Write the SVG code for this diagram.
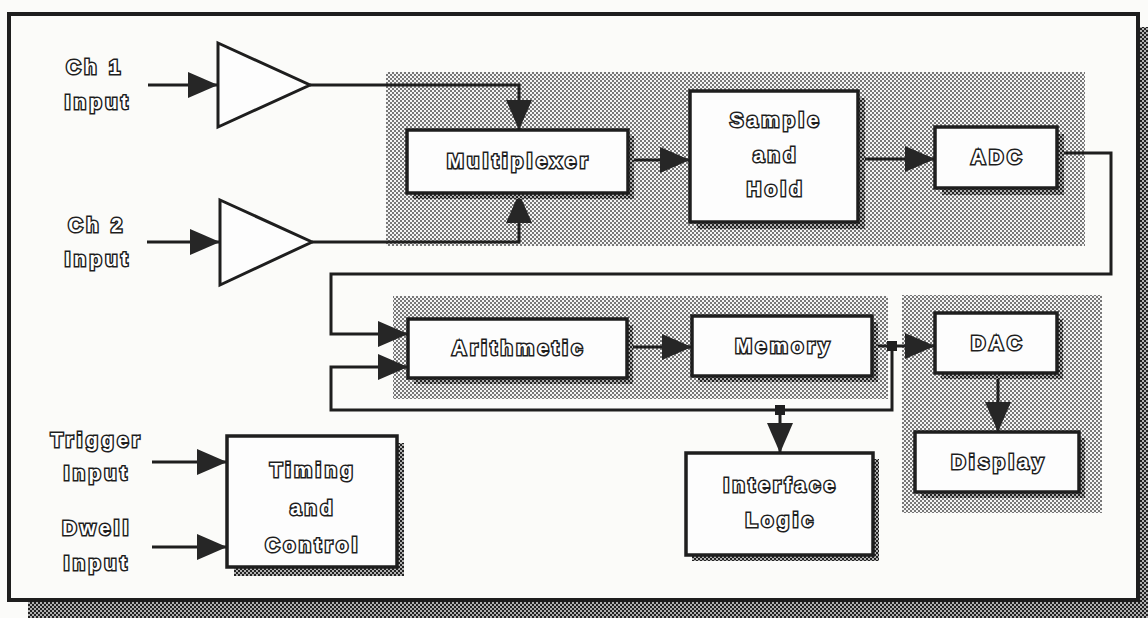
<svg xmlns="http://www.w3.org/2000/svg" width="1148" height="618" viewBox="0 0 1148 618">
<style>
.ln{fill:none;stroke:#1e1e1e;stroke-width:3;stroke-linejoin:miter}
.arr{marker-end:url(#ah)}
.box{fill:#fdfdfd;stroke:#1e1e1e;stroke-width:3.5}
.shd{fill:url(#dark)}
.reg{fill:url(#light)}
.amp{fill:#fdfdfd;stroke:#1e1e1e;stroke-width:3}
.t{font-family:"Liberation Sans",Arial,sans-serif;font-weight:bold;font-size:20px;fill:#fff;stroke:#1e1e1e;stroke-width:3;paint-order:stroke;letter-spacing:3.5px;text-anchor:middle}
.jn{fill:#1e1e1e}
</style>
<defs>
<pattern id="light" width="4" height="4" patternUnits="userSpaceOnUse">
<rect width="4" height="4" fill="#f4f4f4"/>
<rect x="0" y="0" width="2" height="2" fill="#777"/>
<rect x="2" y="2" width="2" height="2" fill="#777"/>
</pattern>
<pattern id="dark" width="4" height="4" patternUnits="userSpaceOnUse">
<rect width="4" height="4" fill="#b0b0b0"/>
<rect x="0" y="0" width="2" height="2" fill="#222"/>
<rect x="2" y="2" width="2" height="2" fill="#222"/>
</pattern>
<marker id="ah" viewBox="0 0 30 26" refX="30" refY="13" markerWidth="30" markerHeight="26" markerUnits="userSpaceOnUse" orient="auto">
<path d="M0,0 L30,13 L0,26 z" fill="#262626"/>
</marker>
</defs>

<rect width="1148" height="618" fill="#fbfbf9"/>

<!-- outer frame with shadow -->
<g id="frame">
<rect x="1138" y="27" width="10" height="591" class="shd"/>
<rect x="28" y="600" width="1120" height="18" class="shd"/>
<rect x="9" y="14" width="1129" height="586" fill="#fbfbf9" stroke="#1e1e1e" stroke-width="4"/>
</g>

<!-- shaded grouping regions -->
<g id="regions">
<rect x="386" y="72" width="699" height="174" class="reg"/>
<rect x="393" y="296" width="495" height="103" class="reg"/>
<rect x="902" y="295" width="200" height="218" class="reg"/>
</g>

<!-- connectors -->
<g id="connectors">
<line x1="148" y1="85" x2="218" y2="85" class="ln arr"/>
<line x1="147" y1="242" x2="220" y2="242" class="ln arr"/>
<polyline points="310,85 519,85 519,130" class="ln arr"/>
<polyline points="312,242 519,242 519,193" class="ln arr"/>
<line x1="628" y1="160" x2="690" y2="160" class="ln arr"/>
<line x1="858" y1="159" x2="935" y2="159" class="ln arr"/>
<polyline points="1057,153 1111,153 1111,274 331,274 331,334 408,334" class="ln arr"/>
<line x1="627" y1="347" x2="692" y2="347" class="ln arr"/>
<line x1="872" y1="346" x2="935" y2="346" class="ln arr"/>
<polyline points="892,346 892,410 331,410 331,367 408,367" class="ln arr"/>
<line x1="780" y1="410" x2="780" y2="453" class="ln arr"/>
<line x1="998" y1="373" x2="998" y2="432" class="ln arr"/>
<line x1="152" y1="462" x2="227" y2="462" class="ln arr"/>
<line x1="152" y1="547" x2="227" y2="547" class="ln arr"/>
<rect x="887" y="341" width="10" height="10" class="jn"/>
<rect x="775" y="405" width="10" height="10" class="jn"/>
</g>

<!-- input labels -->
<g id="lbl-ch1"><text x="95" y="74" class="t">Ch 1</text><text x="98" y="109" class="t">Input</text></g>
<g id="lbl-ch2"><text x="97" y="232" class="t">Ch 2</text><text x="98" y="266" class="t">Input</text></g>
<g id="lbl-trigger"><text x="97" y="447" class="t">Trigger</text><text x="97" y="480" class="t">Input</text></g>
<g id="lbl-dwell"><text x="97" y="535" class="t">Dwell</text><text x="97" y="570" class="t">Input</text></g>

<!-- amplifiers -->
<g id="amp1"><polygon points="218,43 310,85 218,127" class="amp"/></g>
<g id="amp2"><polygon points="220,200 312,242 220,285" class="amp"/></g>

<!-- blocks -->
<g id="multiplexer">
<rect x="413" y="136" width="221" height="63" class="shd"/>
<rect x="407" y="130" width="221" height="63" class="box"/>
<text x="519" y="168" class="t">Multiplexer</text>
</g>
<g id="sample-hold">
<rect x="697" y="98" width="168" height="131" class="shd"/>
<rect x="690" y="91" width="168" height="131" class="box"/>
<text x="776" y="127" class="t">Sample</text>
<text x="776" y="162" class="t">and</text>
<text x="776" y="196" class="t">Hold</text>
</g>
<g id="adc">
<rect x="942" y="134" width="122" height="61" class="shd"/>
<rect x="935" y="127" width="122" height="61" class="box"/>
<text x="998" y="164" class="t">ADC</text>
</g>
<g id="arithmetic">
<rect x="414" y="325" width="219" height="59" class="shd"/>
<rect x="408" y="319" width="219" height="59" class="box"/>
<text x="519" y="355" class="t">Arithmetic</text>
</g>
<g id="memory">
<rect x="698" y="322" width="180" height="60" class="shd"/>
<rect x="692" y="316" width="180" height="60" class="box"/>
<text x="784" y="353" class="t">Memory</text>
</g>
<g id="dac">
<rect x="941" y="319" width="122" height="60" class="shd"/>
<rect x="935" y="313" width="122" height="60" class="box"/>
<text x="998" y="350" class="t">DAC</text>
</g>
<g id="display">
<rect x="921" y="438" width="164" height="60" class="shd"/>
<rect x="915" y="432" width="164" height="60" class="box"/>
<text x="999" y="469" class="t">Display</text>
</g>
<g id="interface-logic">
<rect x="692" y="459" width="187" height="102" class="shd"/>
<rect x="686" y="453" width="187" height="102" class="box"/>
<text x="781" y="492" class="t">Interface</text>
<text x="781" y="527" class="t">Logic</text>
</g>
<g id="timing-control">
<rect x="234" y="443" width="170" height="133" class="shd"/>
<rect x="227" y="436" width="170" height="131" class="box"/>
<text x="313" y="477" class="t">Timing</text>
<text x="313" y="515" class="t">and</text>
<text x="313" y="552" class="t">Control</text>
</g>
</svg>
